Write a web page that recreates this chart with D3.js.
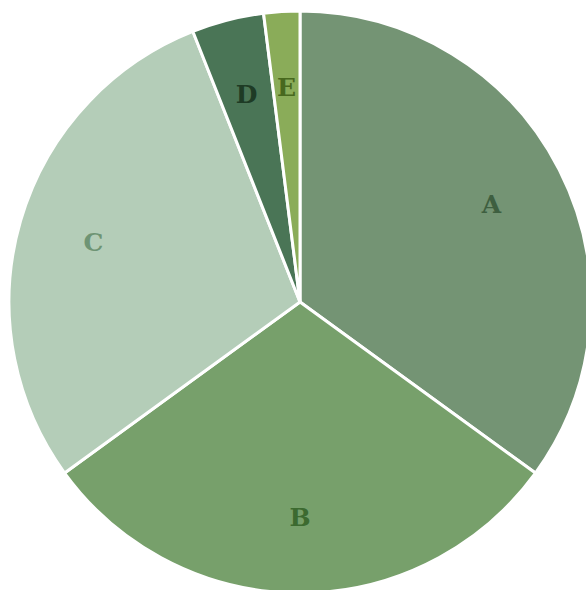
<!DOCTYPE html>
<html>
<head>
<meta charset="utf-8">
<script src="https://cdn.jsdelivr.net/npm/d3@7"></script>
<style>
  body { margin: 0; background: #fff; }
</style>
</head>
<body>
<div id="pieChart"></div>
<script>
// data (share of the whole, %)
const categories = ["A", "B", "C", "D", "E"];
const values = [35, 30, 29, 4, 2];
const sliceColors = ["#749474", "#77a06b", "#b4cdb8", "#4a7556", "#8aac59"];
const labelColors = ["#3e5f40", "#3c6a30", "#6e9474", "#1e3b25", "#48681e"];

const width = 586;
const height = 590;
const radius = 291;

const svg = d3.select("#pieChart")
    .append("svg")
    .attr("width", width)
    .attr("height", height)
    .append("g")
    .attr("transform", "translate(300,302)");

const data = categories.map((c, i) => ({ name: c, value: values[i], i: i }));

const pie = d3.pie()
    .value(d => d.value)
    .sort(null);

const arc = d3.arc()
    .innerRadius(0)
    .outerRadius(radius);

const labelArc = d3.arc()
    .innerRadius(215)
    .outerRadius(215);

const slices = svg.selectAll(".slice")
    .data(pie(data))
    .enter()
    .append("g")
    .attr("class", "slice");

slices.append("path")
    .attr("d", arc)
    .attr("fill", d => sliceColors[d.data.i])
    .attr("stroke", "#fff")
    .attr("stroke-width", 3)
    .attr("stroke-linejoin", "round");

slices.append("text")
    .attr("transform", d => `translate(${labelArc.centroid(d)})`)
    .attr("text-anchor", "middle")
    .attr("dy", "0.35em")
    .attr("font-family", "DejaVu Serif, serif")
    .attr("font-weight", "bold")
    .attr("font-size", 25)
    .attr("fill", d => labelColors[d.data.i])
    .text(d => d.data.name);
</script>
</body>
</html>
